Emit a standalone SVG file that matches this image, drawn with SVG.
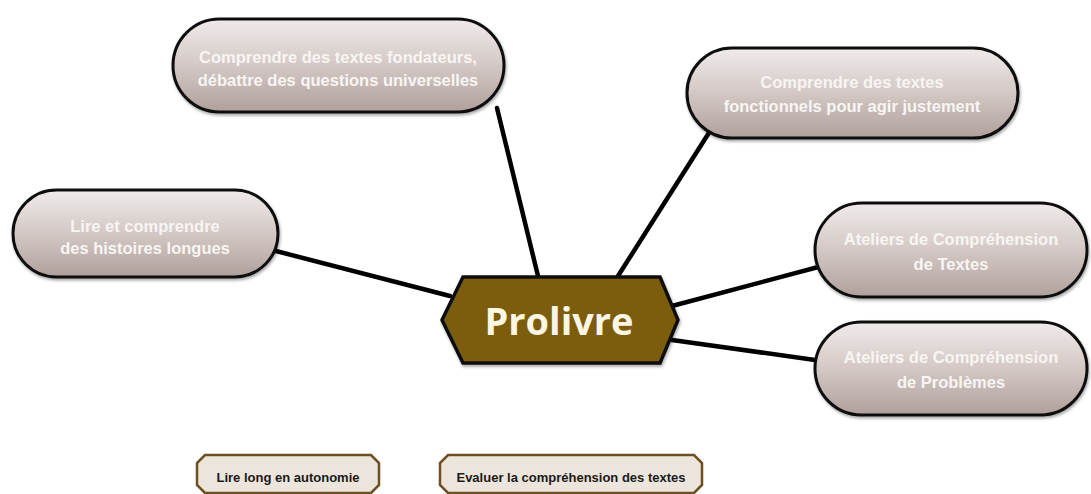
<svg xmlns="http://www.w3.org/2000/svg" width="1091" height="494" viewBox="0 0 1091 494">
<defs>
<linearGradient id="pg" x1="0" y1="0" x2="0" y2="1">
<stop offset="0" stop-color="#efebea"/>
<stop offset="0.5" stop-color="#d3c8c5"/>
<stop offset="1" stop-color="#b0a09b"/>
</linearGradient>
<filter id="sh" x="-10%" y="-10%" width="120%" height="130%">
<feDropShadow dx="1" dy="2" stdDeviation="1.5" flood-color="#000" flood-opacity="0.35"/>
</filter>
</defs>
<style>
.pill{fill:url(#pg);stroke:#111;stroke-width:3;filter:url(#sh)}
.pt{font-family:"Liberation Sans",Arial,sans-serif;font-weight:bold;font-size:16.5px;fill:#f8f5f3;text-anchor:middle}
.con{stroke:#000;stroke-width:4.5;fill:none;stroke-linecap:round}
.bx{fill:#ece5dc;stroke:#6e4f22;stroke-width:2.5}
.bt{font-family:"Liberation Sans",Arial,sans-serif;font-weight:bold;font-size:13px;fill:#1a1a1a;text-anchor:middle}
</style>
<rect width="1091" height="494" fill="#ffffff"/>
<g id="connectors">
<line class="con" x1="497" y1="108" x2="538" y2="276"/>
<line class="con" x1="712" y1="128" x2="618" y2="276"/>
<line class="con" x1="272" y1="250" x2="450" y2="296"/>
<line class="con" x1="822" y1="266" x2="672" y2="306"/>
<line class="con" x1="822" y1="361" x2="672" y2="340"/>
</g>
<g id="n1">
<rect class="pill" x="173" y="19" width="331" height="93" rx="46.5"/>
<text class="pt" x="338" y="63">Comprendre des textes fondateurs,</text>
<text class="pt" x="338" y="86">débattre des questions universelles</text>
</g>
<g id="n2">
<rect class="pill" x="687" y="48" width="331" height="90" rx="45"/>
<text class="pt" x="852" y="88">Comprendre  des textes</text>
<text class="pt" x="852" y="112">fonctionnels  pour  agir justement</text>
</g>
<g id="n3">
<rect class="pill" x="13" y="190" width="265" height="87" rx="43.5"/>
<text class="pt" x="145" y="232">Lire et comprendre</text>
<text class="pt" x="145" y="254">des histoires  longues</text>
</g>
<g id="n4">
<rect class="pill" x="815" y="203" width="272" height="94" rx="47"/>
<text class="pt" x="951" y="245">Ateliers de Compréhension</text>
<text class="pt" x="951" y="270">de Textes</text>
</g>
<g id="n5">
<rect class="pill" x="815" y="322" width="272" height="93" rx="46.5"/>
<text class="pt" x="951" y="363">Ateliers de Compréhension</text>
<text class="pt" x="951" y="388">de Problèmes</text>
</g>
<g id="center">
<polygon points="442,320 463,277 660,277 678,320 660,363 463,363" fill="#7b5c0c" stroke="#111" stroke-width="3.5" stroke-linejoin="miter" filter="url(#sh)"/>
<text x="559" y="335" font-family="'Open Sans','Liberation Sans',sans-serif" font-weight="bold" font-size="38" fill="#fdf6e3" text-anchor="middle">Prolivre</text>
</g>
<g id="b1">
<polygon class="bx" points="205,455 371,455 379,463 379,485 371,493 205,493 197,485 197,463"/>
<text class="bt" x="288" y="482">Lire long en autonomie</text>
</g>
<g id="b2">
<polygon class="bx" points="448,455 694,455 702,463 702,485 694,493 448,493 440,485 440,463"/>
<text class="bt" x="571" y="482">Evaluer la compréhension des textes</text>
</g>
</svg>
